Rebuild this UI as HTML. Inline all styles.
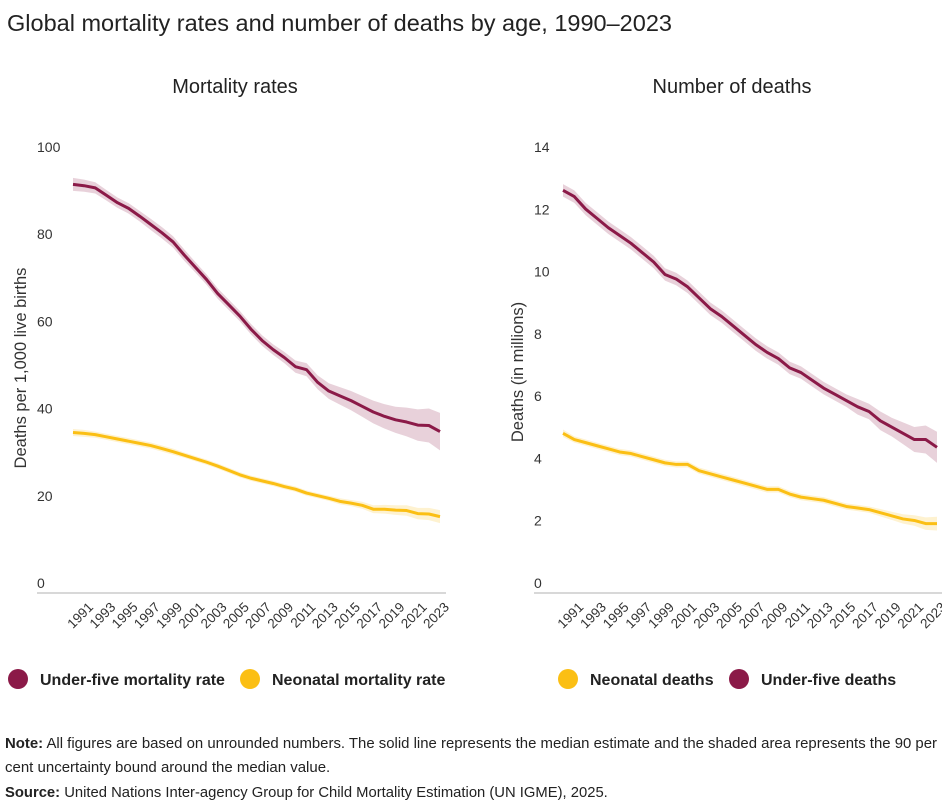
<!DOCTYPE html>
<html><head><meta charset="utf-8"><style>
body{margin:0;background:#fff;font-family:"Liberation Sans",sans-serif;}
#wrap{position:relative;width:942px;height:806px;overflow:hidden;}
svg text{font-family:"Liberation Sans",sans-serif;}
</style></head><body>
<div id="wrap">
<svg id="svg" width="942" height="806">
<text x="7" y="31" font-size="23.5" fill="#222">Global mortality rates and number of deaths by age, 1990–2023</text>
<text x="235" y="93" font-size="20" fill="#222" text-anchor="middle">Mortality rates</text>
<text x="732" y="93" font-size="20" fill="#222" text-anchor="middle">Number of deaths</text>
<text transform="translate(26,368) rotate(-90)" font-size="16.5" fill="#333" text-anchor="middle">Deaths per 1,000 live births</text>
<text transform="translate(523,372) rotate(-90)" font-size="16.5" fill="#333" text-anchor="middle">Deaths (in millions)</text>
<g>
<circle cx="18" cy="679" r="10" fill="#8b1a48"/>
<text x="40" y="685" font-size="16" font-weight="bold" fill="#222">Under-five mortality rate</text>
<circle cx="250" cy="679" r="10" fill="#fbbf14"/>
<text x="272" y="685" font-size="16" font-weight="bold" fill="#222">Neonatal mortality rate</text>
</g>
<g>
<circle cx="568" cy="679" r="10" fill="#fbbf14"/>
<text x="590" y="685" font-size="16" font-weight="bold" fill="#222">Neonatal deaths</text>
<circle cx="739" cy="679" r="10" fill="#8b1a48"/>
<text x="761" y="685" font-size="16" font-weight="bold" fill="#222">Under-five deaths</text>
</g>
<text x="5" y="748" font-size="15" fill="#222" textLength="932" lengthAdjust="spacingAndGlyphs"><tspan font-weight="bold">Note:</tspan> All figures are based on unrounded numbers. The solid line represents the median estimate and the shaded area represents the 90 per</text>
<text x="5" y="772" font-size="15" fill="#222">cent uncertainty bound around the median value.</text>
<text x="5" y="797" font-size="14.8" fill="#222"><tspan font-weight="bold">Source:</tspan> United Nations Inter-agency Group for Child Mortality Estimation (UN IGME), 2025.</text>
</svg>
</div>
<script>
const years=[];for(let y=1990;y<=2023;y++)years.push(y);
const xTickLabels=["1991","1993","1995","1997","1999","2001","2003","2005","2007","2009","2011","2013","2015","2017","2019","2021","2023"];
const leftYTicks=[0,20,40,60,80,100];
const rightYTicks=[0,2,4,6,8,10,12,14];
const u5mr=[92.8,92.5,92.0,90.3,88.6,87.3,85.5,83.6,81.7,79.6,76.6,73.8,71.0,67.8,65.2,62.6,59.6,57.0,54.9,53.1,51.0,50.3,47.4,45.4,44.3,43.2,41.9,40.6,39.6,38.8,38.3,37.6,37.5,36.1];
const u5mrBand=[1.5,1.4,1.3,1.2,1.2,1.2,1.2,1.3,1.3,1.3,1.3,1.2,1.2,1.2,1.2,1.2,1.2,1.2,1.2,1.3,1.4,1.5,1.6,1.8,2.0,2.2,2.4,2.6,2.8,3.0,3.3,3.6,3.9,4.3];
const nmr=[35.9,35.7,35.4,34.9,34.4,33.9,33.4,32.9,32.2,31.5,30.7,29.9,29.1,28.2,27.2,26.2,25.4,24.8,24.2,23.5,22.9,22.0,21.4,20.8,20.1,19.7,19.2,18.3,18.3,18.1,18.0,17.3,17.2,16.6];
const nmrBand=[0.8,0.8,0.7,0.7,0.7,0.7,0.7,0.7,0.7,0.7,0.6,0.6,0.6,0.6,0.6,0.6,0.6,0.6,0.6,0.6,0.6,0.6,0.6,0.6,0.7,0.7,0.8,0.9,1.0,1.1,1.2,1.3,1.4,1.5];
const u5d=[12.8,12.6,12.2,11.9,11.6,11.35,11.1,10.8,10.5,10.1,9.95,9.7,9.35,9.0,8.75,8.45,8.15,7.85,7.6,7.4,7.1,6.95,6.7,6.45,6.25,6.05,5.85,5.7,5.4,5.2,5.0,4.8,4.8,4.55];
const u5dBand=[0.2,0.2,0.2,0.2,0.2,0.2,0.2,0.2,0.2,0.2,0.2,0.2,0.2,0.2,0.2,0.2,0.2,0.2,0.2,0.2,0.2,0.2,0.2,0.2,0.2,0.2,0.25,0.25,0.3,0.3,0.35,0.4,0.45,0.5];
const nnd=[5.0,4.8,4.7,4.6,4.5,4.4,4.35,4.25,4.15,4.05,4.0,4.0,3.8,3.7,3.6,3.5,3.4,3.3,3.2,3.2,3.05,2.95,2.9,2.85,2.75,2.65,2.6,2.55,2.45,2.35,2.25,2.2,2.1,2.1];
const nndBand=[0.12,0.1,0.1,0.1,0.1,0.1,0.1,0.1,0.1,0.1,0.1,0.1,0.1,0.1,0.1,0.1,0.1,0.1,0.1,0.1,0.1,0.1,0.1,0.1,0.1,0.1,0.1,0.1,0.12,0.13,0.15,0.17,0.2,0.22];

const NS='http://www.w3.org/2000/svg';
const svg=document.getElementById('svg');
const MAROON='#8b1a48',YELLOW='#fbbf14';
function mk(tag,attrs,parent){const e=document.createElementNS(NS,tag);for(const k in attrs)e.setAttribute(k,attrs[k]);(parent||svg).appendChild(e);return e;}

function panel(cfg){
  const g=mk('g',{});
  
  
  const x=y=>cfg.x0+(y-1990)*(cfg.x1-cfg.x0)/33;
  const yv=v=>589-v*436/cfg.max;
  const axis=mk('line',{x1:cfg.ax0,x2:cfg.ax1,y1:593,y2:593,stroke:'#ccc','stroke-width':1.5},g);
  
  
  cfg.yTicks.forEach(t=>{
    const tx=mk('text',{x:cfg.labX,y:yv(t)-1,'font-size':14,fill:'#333'},g);
    tx.textContent=t;
    
    
  });
  xTickLabels.forEach(l=>{
    const px=x(+l), py=603;
    const tx=mk('text',{x:px+5,y:py+7,'font-size':13.5,fill:'#333','text-anchor':'end',transform:`rotate(-45 ${px+5} ${py})`},g);
    tx.textContent=l;
    
    
  });
  cfg.series.forEach(s=>{
    let up=s.v.map((v,i)=>`${x(years[i])},${yv(v+s.b[i])}`);
    let lo=s.v.map((v,i)=>`${x(years[i])},${yv(v-s.b[i])}`).reverse();
    const band=mk('polygon',{points:up.concat(lo).join(' '),fill:s.c,'fill-opacity':0.2},g);
    
    
    const line=mk('polyline',{points:s.v.map((v,i)=>`${x(years[i])},${yv(v)}`).join(' '),fill:'none',stroke:s.c,'stroke-width':3,'stroke-linejoin':'round'},g);
    
    
  });
}
panel({name:'mortality-rates-chart',x0:73,x1:440,ax0:37,ax1:446,labX:37,max:100,yTicks:leftYTicks,
  series:[{name:'neonatal-rate',v:nmr,b:nmrBand,c:YELLOW},{name:'under-five-rate',v:u5mr,b:u5mrBand,c:MAROON}]});
panel({name:'number-of-deaths-chart',x0:563,x1:937,ax0:534,ax1:942,labX:534,max:14,yTicks:rightYTicks,
  series:[{name:'neonatal-deaths',v:nnd,b:nndBand,c:YELLOW},{name:'under-five-deaths',v:u5d,b:u5dBand,c:MAROON}]});
</script>
</body></html>
